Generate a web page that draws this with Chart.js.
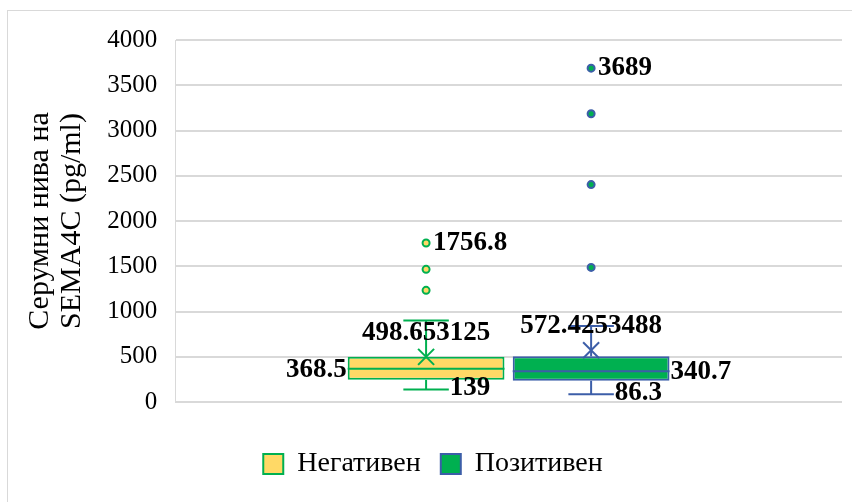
<!DOCTYPE html>
<html><head><meta charset="utf-8">
<script src="https://cdn.jsdelivr.net/npm/chart.js@4"></script>
<style>
html,body{margin:0;padding:0;background:#fff;overflow:hidden;width:852px;height:502px}
#frame{position:absolute;left:7px;top:10px;width:900px;height:600px;border:1px solid #d9d9d9;box-sizing:border-box}
#wrap{position:absolute;left:0;top:0;width:852px;height:502px}
</style></head><body>
<div id="frame"></div>
<div id="wrap"><canvas id="c" width="852" height="502"></canvas></div>
<script>
const categories = ['Негативен', 'Позитивен'];
const q1 = [245, 235];
const q3 = [500, 505];
const medians = [368.5, 340.7];
const means = [498.653125, 572.4253488];
const whiskerMin = [139, 86.3];
const whiskerMax = [900, 840];
const outliers = [[1756.8, 1466, 1234], [3689, 3185, 2402, 1487]];
const yMin = 0, yMax = 4000, yStep = 500;
const axisTitle = ['Серумни нива на', 'SEMA4C (pg/ml)'];

const fills = ['#FFD966', '#00B050'];
const borders = ['#00B050', '#3C5EA8'];
const FONT = '"Liberation Serif", "Times New Roman", serif';

const boxPlugin = {
  id: 'boxExtras',
  afterDatasetsDraw(chart) {
    const ctx = chart.ctx;
    const ys = chart.scales.y;
    const py = v => ys.getPixelForValue(v);
    categories.forEach((c, i) => {
      const bar = chart.getDatasetMeta(i).data[0];
      const cx = bar.x, w = bar.width;
      const left = cx - w / 2, right = cx + w / 2;
      const capHalf = w * 0.145;
      ctx.save();
      ctx.strokeStyle = borders[i];
      ctx.lineWidth = 2;
      const line = (x1, y1, x2, y2) => { ctx.beginPath(); ctx.moveTo(x1, y1); ctx.lineTo(x2, y2); ctx.stroke(); };
      line(left, py(medians[i]), right, py(medians[i]));
      line(cx, py(q3[i]), cx, py(whiskerMax[i]));
      line(cx, py(q1[i]), cx, py(whiskerMin[i]));
      line(cx - capHalf, py(whiskerMax[i]), cx + capHalf, py(whiskerMax[i]));
      line(cx - capHalf, py(whiskerMin[i]), cx + capHalf, py(whiskerMin[i]));
      const my = py(means[i]), r = 8;
      line(cx - r, my - r, cx + r, my + r);
      line(cx - r, my + r, cx + r, my - r);
      outliers[i].forEach(v => {
        ctx.beginPath();
        ctx.arc(cx, py(v), 3.5, 0, Math.PI * 2);
        ctx.fillStyle = fills[i];
        ctx.fill();
        ctx.stroke();
      });
      ctx.fillStyle = '#000';
      ctx.font = 'bold 27px ' + FONT;
      ctx.textBaseline = 'middle';
      const maxOut = Math.max(...outliers[i]);
      ctx.textAlign = 'left';
      ctx.fillText(String(maxOut), cx + 7, py(maxOut));
      ctx.textAlign = 'center';
      ctx.fillText(String(means[i]), cx, my - 24);
      if (i === 0) { ctx.textAlign = 'right'; ctx.fillText(String(medians[i]), left - 1, py(medians[i]) + 1); }
      else { ctx.textAlign = 'left'; ctx.fillText(String(medians[i]), right + 1, py(medians[i]) + 1); }
      ctx.textAlign = 'left';
      ctx.fillText(String(whiskerMin[i]), cx + capHalf + 1, py(whiskerMin[i]) - 1);
      ctx.restore();
    });
  }
};

new Chart(document.getElementById('c'), {
  type: 'bar',
  data: {
    labels: [''],
    datasets: categories.map((c, i) => ({
      label: c,
      data: [[q1[i], q3[i]]],
      backgroundColor: fills[i],
      borderColor: borders[i],
      borderWidth: 2,
      borderSkipped: false
    }))
  },
  options: {
    responsive: false,
    animation: false,
    devicePixelRatio: 1,
    layout: { padding: { left: 24, top: 40, right: 10, bottom: 14 } },
    categoryPercentage: 0.495,
    barPercentage: 0.95,
    plugins: {
      tooltip: { enabled: false },
      legend: {
        position: 'bottom',
        labels: {
          boxWidth: 20, boxHeight: 20, padding: 20,
          color: '#000',
          font: { family: FONT, size: 28 }
        }
      }
    },
    scales: {
      x: {
        display: true,
        ticks: { display: false },
        grid: { display: false },
        border: { display: false },
        afterFit: s => { s.height = 28; }
      },
      y: {
        min: yMin, max: yMax,
        ticks: { stepSize: yStep, padding: 18, color: '#000', font: { family: FONT, size: 25 }, callback: v => String(v) },
        grid: { color: '#d9d9d9', lineWidth: 2, drawTicks: false },
        border: { display: true, color: '#d9d9d9', width: 1 },
        title: { display: true, text: axisTitle, color: '#000', font: { family: FONT, size: 30, lineHeight: 1.07 }, padding: { top: 0, bottom: 1 } }
      }
    }
  },
  plugins: [boxPlugin]
});
</script>
</body></html>
